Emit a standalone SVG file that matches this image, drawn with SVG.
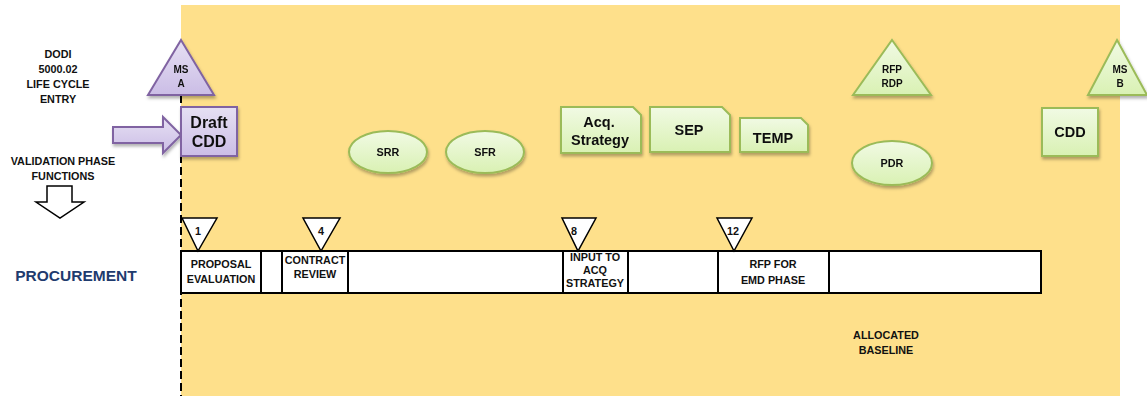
<svg xmlns="http://www.w3.org/2000/svg" width="1147" height="396" viewBox="0 0 1147 396">
<style>
text{font-family:"Liberation Sans",Arial,sans-serif;font-weight:bold;fill:#111;text-anchor:middle}
.s{font-size:10.8px}
.t{font-size:10px}
.m{font-size:14.5px}
.l{font-size:16px}
.purple{fill:url(#pg);stroke:#8064a2;stroke-width:2}
.green{fill:url(#gg);stroke:#9bbb59;stroke-width:2}
.bar{fill:#fff;stroke:#000;stroke-width:2}
.tri{fill:#fff;stroke:#000;stroke-width:1.5}
</style>
<defs>
<linearGradient id="pg" x1="0" y1="0" x2="0" y2="1"><stop offset="0" stop-color="#e6e0f3"/><stop offset="1" stop-color="#cbbde6"/></linearGradient>
<linearGradient id="gg" x1="0" y1="0" x2="0" y2="1"><stop offset="0" stop-color="#f1fae4"/><stop offset="1" stop-color="#d9f1b3"/></linearGradient>
<filter id="sh" x="-20%" y="-20%" width="140%" height="150%"><feDropShadow dx="1" dy="2.5" stdDeviation="1.5" flood-color="#000" flood-opacity="0.3"/></filter>
</defs>
<rect x="0" y="0" width="1147" height="396" fill="#fff"/>
<rect x="181" y="5" width="939" height="391" fill="#fee08b"/>
<g id="left-labels">
<text class="s" x="58" y="58">DODI</text>
<text class="s" x="58" y="73">5000.02</text>
<text class="s" x="58" y="88">LIFE CYCLE</text>
<text class="s" x="58" y="103">ENTRY</text>
<text class="s" x="63" y="165">VALIDATION PHASE</text>
<text class="s" x="63" y="180">FUNCTIONS</text>
<path d="M47,186 H72 V202 H84 L60,218 L36,202 H47 Z" fill="#fff" stroke="#000" stroke-width="1.5"/>
<text x="76" y="281" style="font-size:15.5px;fill:#1f3b6e">PROCUREMENT</text>
</g>
<g id="connectors">
<line x1="181" y1="95" x2="181" y2="396" stroke="#000" stroke-width="2" stroke-dasharray="8,4"/>
<path d="M113,127 H163 V117 L181,135 L163,153 V143 H113 Z" class="purple" filter="url(#sh)"/>
</g>
<g id="ms-a" filter="url(#sh)">
<path d="M181,40 L214,95 L148,95 Z" class="purple"/>
<text class="t" x="181" y="73">MS</text>
<text class="t" x="181" y="87">A</text>
</g>
<g id="draft-cdd" filter="url(#sh)">
<rect x="181" y="107" width="56" height="49" class="purple"/>
<text class="l" x="209" y="128">Draft</text>
<text class="l" x="209" y="147">CDD</text>
</g>
<g id="srr" filter="url(#sh)">
<ellipse cx="388" cy="152" rx="39" ry="21" class="green"/>
<text class="s" x="388" y="156">SRR</text>
</g>
<g id="sfr" filter="url(#sh)">
<ellipse cx="485" cy="152" rx="39" ry="21" class="green"/>
<text class="s" x="485" y="156">SFR</text>
</g>
<g id="acq-strategy" filter="url(#sh)">
<path d="M561,107 H633 L641,115 V153 H561 Z" class="green"/>
<text class="m" x="599" y="127">Acq.</text>
<text class="m" x="600" y="145">Strategy</text>
</g>
<g id="sep" filter="url(#sh)">
<path d="M650,107 H722 L730,115 V152 H650 Z" class="green"/>
<text class="m" x="689" y="135">SEP</text>
</g>
<g id="temp" filter="url(#sh)">
<path d="M740,118 H801 L808,125 V152 H740 Z" class="green"/>
<text class="m" x="773" y="143">TEMP</text>
</g>
<g id="rfp-rdp" filter="url(#sh)">
<path d="M892,40 L931,95 L853,95 Z" class="green"/>
<text class="t" x="892" y="73">RFP</text>
<text class="t" x="892" y="87">RDP</text>
</g>
<g id="pdr" filter="url(#sh)">
<ellipse cx="892" cy="163" rx="40" ry="22" class="green"/>
<text class="s" x="892" y="167">PDR</text>
</g>
<g id="cdd" filter="url(#sh)">
<rect x="1042" y="108" width="56" height="48" class="green"/>
<text class="m" x="1070" y="137">CDD</text>
</g>
<g id="ms-b" filter="url(#sh)">
<path d="M1117,40 L1147,95 L1088,95 Z" class="green"/>
<text class="t" x="1120" y="73">MS</text>
<text class="t" x="1120" y="87">B</text>
</g>
<g id="procurement-bar">
<rect x="181" y="251" width="860" height="42" class="bar"/>
<line x1="261" y1="251" x2="261" y2="293" stroke="#000" stroke-width="2"/>
<line x1="282" y1="251" x2="282" y2="293" stroke="#000" stroke-width="2"/>
<line x1="348" y1="251" x2="348" y2="293" stroke="#000" stroke-width="2"/>
<line x1="563" y1="251" x2="563" y2="293" stroke="#000" stroke-width="2"/>
<line x1="628" y1="251" x2="628" y2="293" stroke="#000" stroke-width="2"/>
<line x1="718" y1="251" x2="718" y2="293" stroke="#000" stroke-width="2"/>
<line x1="829" y1="251" x2="829" y2="293" stroke="#000" stroke-width="2"/>
<text class="s" x="221" y="268">PROPOSAL</text>
<text class="s" x="221" y="283">EVALUATION</text>
<text class="s" x="315" y="264">CONTRACT</text>
<text class="s" x="315" y="278">REVIEW</text>
<text class="s" x="595" y="261">INPUT TO</text>
<text class="s" x="595" y="274">ACQ</text>
<text class="s" x="595" y="287">STRATEGY</text>
<text class="s" x="773" y="268">RFP FOR</text>
<text class="s" x="773" y="284">EMD PHASE</text>
</g>
<g id="step-1"><path d="M182,218 H217 L198,251 Z" class="tri"/><text class="s" x="198" y="235">1</text></g>
<g id="step-4"><path d="M303,218 H340 L321,251 Z" class="tri"/><text class="s" x="321" y="235">4</text></g>
<g id="step-8"><path d="M562,218 H596 L578,251 Z" class="tri"/><text class="s" x="574" y="235">8</text></g>
<g id="step-12"><path d="M717,218 H752 L734,251 Z" class="tri"/><text class="s" x="733" y="235">12</text></g>
<g id="allocated-baseline">
<text class="s" x="886" y="339">ALLOCATED</text>
<text class="s" x="886" y="354">BASELINE</text>
</g>
</svg>
